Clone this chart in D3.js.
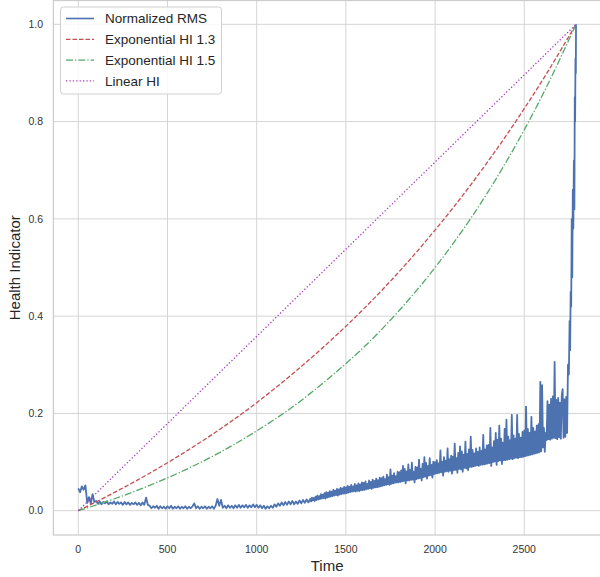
<!DOCTYPE html>
<html>
<head>
<meta charset="utf-8">
<script src="https://cdn.jsdelivr.net/npm/d3@7"></script>
<style>
  body { margin: 0; background: #fff; }
  svg text { font-family: "Liberation Sans", Arial, sans-serif; }
</style>
</head>
<body>
<div id="chart"></div>
<script>
// tick labels
const xTicks = [0, 500, 1000, 1500, 2000, 2500];
const yTicks = [0.0, 0.2, 0.4, 0.6, 0.8, 1.0];

// exponential / linear health indicators
const hiTime = [0, 200, 400, 600, 800, 1000, 1200, 1400, 1600, 1800, 2000, 2200, 2400, 2600, 2790];
const expHi13 = [0, 0.037, 0.077, 0.121, 0.169, 0.222, 0.281, 0.345, 0.415, 0.492, 0.577, 0.670, 0.772, 0.884, 1.0];
const expHi15 = [0, 0.024, 0.052, 0.084, 0.121, 0.164, 0.213, 0.271, 0.336, 0.412, 0.500, 0.601, 0.718, 0.853, 1.0];
const linearTime = [0, 2790];
const linearHi = [0, 1];

// normalized RMS, every 10 time steps from 0 to 1290
const rmsEarlyStep = 10;
const rmsEarly = [
  0.046, 0.038, 0.050, 0.043, 0.052, 0.016, 0.028, 0.014, 0.034, 0.018,
  0.020, 0.014, 0.019, 0.013, 0.018, 0.015, 0.019, 0.013, 0.017, 0.014,
  0.019, 0.013, 0.018, 0.014, 0.017, 0.012, 0.018, 0.013, 0.017, 0.012,
  0.016, 0.013, 0.017, 0.012, 0.016, 0.011, 0.017, 0.012, 0.027, 0.012,
  0.010, 0.005, 0.009, 0.006, 0.010, 0.004, 0.009, 0.005, 0.008, 0.004,
  0.009, 0.005, 0.010, 0.004, 0.008, 0.005, 0.009, 0.004, 0.008, 0.005,
  0.009, 0.004, 0.008, 0.005, 0.009, 0.015, 0.005, 0.009, 0.004, 0.008,
  0.005, 0.009, 0.004, 0.008, 0.005, 0.009, 0.004, 0.010, 0.024, 0.010,
  0.022, 0.006, 0.010, 0.005, 0.011, 0.006, 0.010, 0.005, 0.011, 0.006,
  0.012, 0.006, 0.011, 0.007, 0.012, 0.006, 0.011, 0.007, 0.013, 0.007,
  0.012, 0.006, 0.011, 0.005, 0.010, 0.004, 0.009, 0.005, 0.010, 0.006,
  0.013, 0.008, 0.015, 0.010, 0.017, 0.011, 0.018, 0.012, 0.019, 0.013,
  0.020, 0.013, 0.019, 0.014, 0.021, 0.015, 0.022, 0.016, 0.023, 0.017
];
// normalized RMS, every 5 time steps from 1300 to 2740 (noisier part)
const rmsLateStart = 1300;
const rmsLateStep = 5;
const rmsLate = [
  0.024, 0.019, 0.027, 0.021, 0.026, 0.020, 0.029, 0.022, 0.031, 0.023,
  0.030, 0.024, 0.034, 0.025, 0.033, 0.026, 0.036, 0.025, 0.038, 0.027,
  0.037, 0.028, 0.040, 0.029, 0.039, 0.030, 0.043, 0.031, 0.041, 0.032,
  0.045, 0.031, 0.044, 0.033, 0.047, 0.034, 0.046, 0.035, 0.049, 0.035,
  0.048, 0.036, 0.051, 0.037, 0.049, 0.038, 0.053, 0.039, 0.050, 0.040,
  0.055, 0.039, 0.052, 0.041, 0.056, 0.040, 0.054, 0.042, 0.058, 0.042,
  0.057, 0.043, 0.060, 0.044, 0.055, 0.045, 0.062, 0.046, 0.059, 0.045,
  0.064, 0.047, 0.061, 0.048, 0.066, 0.048, 0.063, 0.049, 0.068, 0.050,
  0.067, 0.051, 0.070, 0.052, 0.065, 0.053, 0.074, 0.054, 0.069, 0.053,
  0.085, 0.055, 0.072, 0.056, 0.077, 0.057, 0.071, 0.058, 0.080, 0.058,
  0.079, 0.059, 0.083, 0.060, 0.092, 0.061, 0.086, 0.056, 0.081, 0.062,
  0.095, 0.062, 0.084, 0.063, 0.099, 0.064, 0.080, 0.058, 0.090, 0.065,
  0.089, 0.066, 0.105, 0.067, 0.086, 0.062, 0.096, 0.069, 0.110, 0.070,
  0.098, 0.066, 0.092, 0.072, 0.108, 0.073, 0.094, 0.068, 0.101, 0.075,
  0.100, 0.076, 0.104, 0.077, 0.097, 0.078, 0.124, 0.079, 0.101, 0.072,
  0.110, 0.080, 0.103, 0.081, 0.128, 0.080, 0.106, 0.082, 0.113, 0.076,
  0.111, 0.083, 0.138, 0.084, 0.108, 0.078, 0.119, 0.086, 0.132, 0.085,
  0.122, 0.080, 0.115, 0.088, 0.142, 0.087, 0.117, 0.083, 0.126, 0.090,
  0.152, 0.090, 0.125, 0.091, 0.118, 0.092, 0.128, 0.093, 0.121, 0.092,
  0.130, 0.094, 0.123, 0.095, 0.156, 0.095, 0.126, 0.096, 0.134, 0.097,
  0.135, 0.098, 0.170, 0.092, 0.130, 0.100, 0.143, 0.101, 0.160, 0.094,
  0.146, 0.102, 0.175, 0.103, 0.148, 0.096, 0.140, 0.104, 0.168, 0.104,
  0.187, 0.105, 0.152, 0.106, 0.145, 0.107, 0.197, 0.106, 0.155, 0.108,
  0.148, 0.109, 0.197, 0.108, 0.158, 0.110, 0.150, 0.110, 0.162, 0.111,
  0.165, 0.112, 0.214, 0.113, 0.168, 0.114, 0.160, 0.115, 0.193, 0.116,
  0.170, 0.117, 0.163, 0.118, 0.175, 0.119, 0.178, 0.120, 0.265, 0.122,
  0.258, 0.130, 0.170, 0.121, 0.160, 0.145, 0.225, 0.147, 0.218, 0.146,
  0.230, 0.148, 0.235, 0.150, 0.306, 0.149, 0.228, 0.147, 0.232, 0.151,
  0.222, 0.148, 0.236, 0.250, 0.150, 0.229, 0.152, 0.234, 0.160
];
// the final steep rise
const rmsTailTime = [2745, 2750, 2754, 2757, 2760, 2763, 2766, 2769, 2772, 2775, 2778, 2781, 2783, 2785, 2787, 2789, 2790];
const rmsTail = [0.30, 0.28, 0.39, 0.33, 0.45, 0.42, 0.60, 0.48, 0.66, 0.58, 0.72, 0.62, 0.85, 0.80, 0.93, 0.90, 1.0];

const width = 600, height = 577;
const plotLeft = 53.4, plotRight = 600.9, plotTop = 0.5, plotBottom = 535;

const x = d3.scaleLinear().domain([-139.5, 2929.5]).range([plotLeft, plotRight]);
const y = d3.scaleLinear().domain([-0.05, 1.05]).range([plotBottom, 0]);

const svg = d3.select("#chart").append("svg")
    .attr("width", width)
    .attr("height", height);

// grid
const grid = svg.append("g").attr("stroke", "#d5d5d5").attr("stroke-width", 1);
grid.selectAll("line.vx")
    .data(xTicks)
    .join("line")
    .attr("x1", d => x(d)).attr("x2", d => x(d))
    .attr("y1", plotTop).attr("y2", plotBottom);
grid.selectAll("line.hy")
    .data(yTicks)
    .join("line")
    .attr("class", "hy")
    .attr("x1", plotLeft).attr("x2", plotRight)
    .attr("y1", d => y(d)).attr("y2", d => y(d));

// spines
svg.append("rect")
    .attr("x", plotLeft).attr("y", plotTop)
    .attr("width", plotRight - plotLeft).attr("height", plotBottom - plotTop)
    .attr("fill", "none")
    .attr("stroke", "#cccccc")
    .attr("stroke-width", 1.25);

// tick labels
svg.append("g").selectAll("text")
    .data(xTicks)
    .join("text")
    .attr("x", d => x(d))
    .attr("y", 553)
    .attr("text-anchor", "middle")
    .attr("font-size", "10.5px")
    .attr("fill", "#333")
    .text(d => d);
svg.append("g").selectAll("text")
    .data(yTicks)
    .join("text")
    .attr("x", 43)
    .attr("y", d => y(d))
    .attr("dy", "0.35em")
    .attr("text-anchor", "end")
    .attr("font-size", "10.5px")
    .attr("fill", "#333")
    .text(d => d.toFixed(1));

// axis titles
svg.append("text")
    .attr("x", (plotLeft + plotRight) / 2)
    .attr("y", 571)
    .attr("text-anchor", "middle")
    .attr("font-size", "15px")
    .attr("fill", "#262626")
    .text("Time");
svg.append("text")
    .attr("transform", `translate(20,${(plotTop + plotBottom) / 2}) rotate(-90)`)
    .attr("text-anchor", "middle")
    .attr("font-size", "15px")
    .attr("fill", "#262626")
    .text("Health Indicator");

// series
const rmsPoints = rmsEarly.map((v, i) => [i * rmsEarlyStep, v])
    .concat(rmsLate.map((v, i) => [rmsLateStart + i * rmsLateStep, v]))
    .concat(rmsTailTime.map((t, i) => [t, rmsTail[i]]));

const line = d3.line().x(d => x(d[0])).y(d => y(d[1]));
const smooth = d3.line().x(d => x(d[0])).y(d => y(d[1])).curve(d3.curveMonotoneX);

const series = [
    { name: "Normalized RMS", color: "#4c72b0", dash: null, width: 1.8, path: line(rmsPoints) },
    { name: "Exponential HI 1.3", color: "#c44e52", dash: "4.5,2", width: 1.3,
      path: smooth(hiTime.map((t, i) => [t, expHi13[i]])) },
    { name: "Exponential HI 1.5", color: "#55a868", dash: "7,2,1.3,2", width: 1.3,
      path: smooth(hiTime.map((t, i) => [t, expHi15[i]])) },
    { name: "Linear HI", color: "#a83bc4", dash: "1.3,2.1", width: 1.3,
      path: line(linearTime.map((t, i) => [t, linearHi[i]])) }
];

svg.append("g").selectAll("path")
    .data(series)
    .join("path")
    .attr("d", d => d.path)
    .attr("fill", "none")
    .attr("stroke", d => d.color)
    .attr("stroke-width", d => d.width)
    .attr("stroke-dasharray", d => d.dash)
    .attr("stroke-linejoin", "round");

// legend
const legend = svg.append("g");
legend.append("rect")
    .attr("x", 60.5).attr("y", 7)
    .attr("width", 161).attr("height", 87)
    .attr("rx", 3)
    .attr("fill", "#fff")
    .attr("fill-opacity", 0.85)
    .attr("stroke", "#d0d0d0")
    .attr("stroke-width", 1);
const item = legend.selectAll("g.item")
    .data(series)
    .join("g")
    .attr("class", "item")
    .attr("transform", (d, i) => `translate(0,${18.5 + i * 20.8})`);
item.append("line")
    .attr("x1", 66).attr("x2", 94)
    .attr("stroke", d => d.color)
    .attr("stroke-width", d => Math.min(d.width, 1.6))
    .attr("stroke-dasharray", d => d.dash);
item.append("text")
    .attr("x", 105)
    .attr("dy", "0.35em")
    .attr("font-size", "13.5px")
    .attr("fill", "#262626")
    .text(d => d.name);
</script>
</body>
</html>
